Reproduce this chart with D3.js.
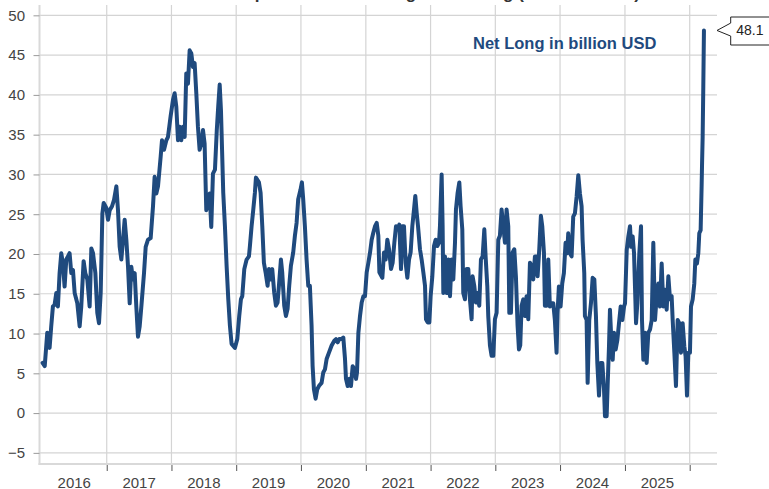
<!DOCTYPE html>
<html>
<head>
<meta charset="utf-8">
<script src="https://cdn.jsdelivr.net/npm/d3@7"></script>
<style>
  html, body { margin: 0; padding: 0; background: #ffffff; }
  svg { display: block; font-family: "Liberation Sans", Arial, sans-serif; }
</style>
</head>
<body>
<svg id="chart" width="769" height="489"></svg>
<script>
// ---- data (decimal year, net long in billion USD) ----
const weekYears = [
2016.012,2016.045,2016.084,2016.120,2016.145,2016.171,2016.197,2016.223,2016.248,2016.274,
2016.300,2016.325,2016.351,2016.377,2016.403,2016.428,2016.454,2016.480,2016.506,2016.547,
2016.583,2016.608,2016.644,2016.670,2016.701,2016.737,2016.763,2016.789,2016.825,2016.855,
2016.881,2016.907,2016.933,2016.953,2016.994,2017.020,2017.046,2017.082,2017.113,2017.149,
2017.174,2017.200,2017.226,2017.252,2017.277,2017.303,2017.329,2017.355,2017.380,2017.406,
2017.432,2017.457,2017.483,2017.509,2017.535,2017.576,2017.602,2017.638,2017.679,2017.715,
2017.740,2017.766,2017.792,2017.833,2017.854,2017.885,2017.921,2017.946,2017.987,2018.024,
2018.049,2018.075,2018.101,2018.126,2018.152,2018.178,2018.204,2018.229,2018.255,2018.281,
2018.307,2018.332,2018.358,2018.384,2018.409,2018.435,2018.461,2018.487,2018.512,2018.538,
2018.564,2018.590,2018.615,2018.641,2018.672,2018.700,2018.722,2018.745,2018.765,2018.782,
2018.800,2018.826,2018.852,2018.878,2018.903,2018.929,2018.981,2019.017,2019.047,2019.073,
2019.094,2019.125,2019.161,2019.197,2019.212,2019.238,2019.264,2019.289,2019.305,2019.351,
2019.377,2019.403,2019.428,2019.454,2019.485,2019.506,2019.531,2019.557,2019.588,2019.614,
2019.639,2019.660,2019.691,2019.711,2019.742,2019.768,2019.794,2019.819,2019.845,2019.881,
2019.907,2019.933,2019.958,2019.994,2020.015,2020.035,2020.061,2020.087,2020.113,2020.138,
2020.164,2020.180,2020.200,2020.226,2020.252,2020.277,2020.318,2020.344,2020.370,2020.396,
2020.432,2020.473,2020.514,2020.540,2020.566,2020.591,2020.627,2020.653,2020.679,2020.694,
2020.720,2020.746,2020.771,2020.797,2020.823,2020.849,2020.864,2020.885,2020.910,2020.936,
2020.962,2020.987,2021.013,2021.039,2021.065,2021.090,2021.116,2021.142,2021.168,2021.193,
2021.209,2021.255,2021.281,2021.306,2021.332,2021.358,2021.389,2021.414,2021.440,2021.466,
2021.492,2021.517,2021.543,2021.564,2021.589,2021.615,2021.641,2021.667,2021.692,2021.718,
2021.744,2021.764,2021.785,2021.806,2021.836,2021.862,2021.888,2021.914,2021.929,2021.955,
2021.981,2022.001,2022.027,2022.053,2022.078,2022.104,2022.130,2022.145,2022.171,2022.186,
2022.197,2022.222,2022.248,2022.274,2022.300,2022.325,2022.351,2022.377,2022.392,2022.418,
2022.444,2022.464,2022.490,2022.505,2022.531,2022.557,2022.583,2022.608,2022.634,2022.649,
2022.675,2022.701,2022.727,2022.752,2022.778,2022.804,2022.830,2022.850,2022.876,2022.891,
2022.917,2022.943,2022.969,2022.994,2023.020,2023.046,2023.071,2023.097,2023.123,2023.149,
2023.174,2023.200,2023.216,2023.241,2023.267,2023.293,2023.318,2023.344,2023.365,2023.385,
2023.406,2023.432,2023.457,2023.483,2023.509,2023.535,2023.560,2023.586,2023.612,2023.637,
2023.653,2023.679,2023.704,2023.725,2023.751,2023.766,2023.792,2023.818,2023.843,2023.869,
2023.895,2023.920,2023.946,2023.961,2023.982,2024.008,2024.034,2024.059,2024.085,2024.111,
2024.126,2024.152,2024.178,2024.203,2024.229,2024.255,2024.281,2024.306,2024.332,2024.347,
2024.373,2024.383,2024.409,2024.425,2024.450,2024.476,2024.502,2024.528,2024.553,2024.574,
2024.600,2024.625,2024.651,2024.677,2024.692,2024.718,2024.733,2024.754,2024.769,2024.785,
2024.811,2024.831,2024.857,2024.883,2024.908,2024.934,2024.960,2024.986,2025.001,2025.027,
2025.052,2025.078,2025.094,2025.119,2025.140,2025.155,2025.171,2025.191,2025.222,2025.248,
2025.263,2025.284,2025.310,2025.335,2025.361,2025.387,2025.413,2025.438,2025.464,2025.490,
2025.516,2025.541,2025.567,2025.593,2025.618,2025.644,2025.670,2025.696,2025.721,2025.737,
2025.763,2025.788,2025.814,2025.840,2025.865,2025.891,2025.917,2025.937,2025.958,2025.979,
2026.004,2026.020,2026.046,2026.071,2026.087,2026.112,2026.133,2026.148,2026.169,2026.184,
2026.190,2026.200,2026.210,2026.220
];
const netLong = [
6.3,5.9,10.1,8.2,10.9,13.4,13.6,15.1,13.4,17.6,
20.1,18.8,15.9,19.3,19.7,20.1,17.6,18.0,15.1,13.8,
10.9,13.4,19.1,17.6,16.8,13.4,20.7,20.1,17.6,12.6,
11.3,15.1,25.1,26.4,25.8,24.3,25.5,26.0,26.8,28.5,
25.5,20.9,19.3,21.8,24.3,21.8,18.4,13.8,18.4,16.8,
17.6,13.4,9.6,10.9,13.4,17.6,20.9,21.8,22.0,26.0,
29.7,27.6,28.5,32.2,34.3,33.1,34.3,34.7,37.3,39.4,
40.2,38.5,34.3,36.0,34.3,36.0,34.7,42.7,41.4,45.6,
45.2,43.5,44.0,40.2,36.0,33.1,33.9,35.6,33.9,25.5,
26.8,27.6,23.4,30.1,30.6,35.5,38.5,41.3,38.0,33.0,
27.7,23.5,18.5,14.3,11.0,8.7,8.2,9.3,12.2,14.3,
14.7,18.1,19.3,19.7,21.0,23.5,25.6,27.7,29.6,29.0,
27.7,23.5,18.9,17.7,16.0,18.1,16.8,18.1,15.1,13.5,
13.9,16.0,19.3,17.7,13.5,12.2,13.1,16.0,18.5,20.2,
22.3,23.9,26.9,28.1,29.0,26.9,23.5,19.3,16.0,16.0,
11.0,5.9,3.0,1.8,3.0,3.4,3.8,5.1,5.5,6.8,
7.6,8.5,9.1,9.3,8.9,9.3,9.3,9.5,6.8,4.3,
3.4,4.3,3.4,5.9,5.5,4.3,5.1,10.1,12.2,13.9,
14.7,14.7,17.7,18.9,20.2,21.8,22.7,23.5,23.9,22.3,
17.7,17.0,20.2,19.3,21.8,20.6,18.1,18.9,21.4,23.5,
23.1,23.7,18.1,23.5,23.5,18.9,17.0,19.3,20.2,23.5,
25.6,27.3,25.2,23.5,20.6,19.3,17.7,16.0,11.8,11.4,
11.4,14.7,17.2,21.0,21.8,21.0,21.4,23.5,30.0,23.5,
15.1,19.7,15.1,19.3,14.7,19.3,16.8,21.4,25.6,27.7,
29.0,26.0,23.1,15.1,14.3,18.1,18.1,14.3,11.8,17.2,
16.0,13.9,15.1,13.5,19.3,19.7,23.1,19.7,16.0,12.2,
8.5,7.2,7.2,11.8,12.6,21.8,22.3,25.6,23.5,21.4,
25.6,23.5,12.6,12.6,20.2,20.6,17.2,11.0,8.0,8.5,
13.5,14.3,12.2,14.7,11.8,18.9,18.5,16.8,19.7,19.7,
17.2,20.6,24.8,23.5,20.2,13.5,13.5,19.3,13.4,13.8,
13.8,11.7,7.6,12.6,15.9,13.4,16.3,17.6,21.4,20.1,
22.6,20.1,19.7,24.7,25.1,27.2,29.9,27.6,26.0,21.8,
17.6,12.2,11.7,3.8,11.7,13.8,17.0,16.8,12.2,6.3,
2.2,6.3,6.3,3.0,-0.4,-0.4,3.4,8.4,13.0,10.1,
6.7,10.1,8.0,9.2,11.3,13.4,11.7,13.4,13.8,20.5,
22.2,23.5,20.9,22.2,20.1,15.9,11.3,13.8,20.1,23.5,
11.7,6.7,10.1,6.3,10.1,10.5,11.7,21.4,11.7,14.7,
16.3,13.4,18.8,13.4,15.5,13.0,17.2,14.3,14.7,11.7,
7.6,3.4,11.7,11.3,7.6,11.3,8.4,7.1,2.2,7.6,
7.6,13.4,14.3,16.3,19.3,18.8,20.1,22.6,23.0,28.5,
31.0,34.7,41.0,48.1
];
const yTickValues = [-5, 0, 5, 10, 15, 20, 25, 30, 35, 40, 45, 50];
const yearLabels = ["2016","2017","2018","2019","2020","2021","2022","2023","2024","2025"];
const yearBoundaries = [2017, 2018, 2019, 2020, 2021, 2022, 2023, 2024, 2025, 2026];
const seriesName = "Net Long in billion USD";
const chartTitle = "Gold: Speculative Net Long Positioning (in billion USD)";

// ---- helpers ----
function toDate(t) {
  const y = Math.floor(t);
  const s = Date.UTC(y, 0, 1), e = Date.UTC(y + 1, 0, 1);
  return new Date(s + (t - y) * (e - s));
}
const data = weekYears.map((t, i) => ({ date: toDate(t), value: netLong[i] }));

const svg = d3.select("#chart");
const W = 769, H = 489;
const plot = { left: 39.5, right: 717, top: 5, bottom: 464 };
const lineColor = "#1f4a7e";
const gridColor = "#d4d4d4";

const x = d3.scaleUtc()
  .domain([new Date(Date.UTC(2015, 11, 19)), new Date(Date.UTC(2026, 5, 3, 22))])
  .range([plot.left, plot.right]);
const y = d3.scaleLinear()
  .domain([-6.4, 51.3])
  .range([plot.bottom, plot.top]);

// title (mostly outside the visible area, as in the reference)
svg.append("text")
  .attr("x", 640).attr("y", -1)
  .attr("text-anchor", "end")
  .attr("font-size", 17).attr("font-weight", "bold")
  .attr("fill", "#333")
  .text(chartTitle);

// horizontal grid
svg.append("g").selectAll("line").data(yTickValues).join("line")
  .attr("x1", plot.left).attr("x2", plot.right)
  .attr("y1", d => y(d)).attr("y2", d => y(d))
  .attr("stroke", gridColor).attr("stroke-width", 1.2);

// vertical grid at year boundaries
svg.append("g").selectAll("line").data(yearBoundaries).join("line")
  .attr("x1", d => x(toDate(d))).attr("x2", d => x(toDate(d)))
  .attr("y1", plot.top).attr("y2", plot.bottom)
  .attr("stroke", gridColor).attr("stroke-width", 1.2);

// plot borders (left and bottom)
svg.append("line")
  .attr("x1", plot.left).attr("x2", plot.left)
  .attr("y1", plot.top).attr("y2", plot.bottom + 1)
  .attr("stroke", "#d9d9d9").attr("stroke-width", 2);
svg.append("line")
  .attr("x1", plot.left - 1).attr("x2", plot.right)
  .attr("y1", plot.bottom).attr("y2", plot.bottom)
  .attr("stroke", "#d9d9d9").attr("stroke-width", 2);

// y axis
const yAxis = d3.axisLeft(y).tickValues(yTickValues).tickSize(6).tickPadding(8.5)
  .tickFormat(d3.format("d"));
const yg = svg.append("g").attr("transform", `translate(${plot.left},0)`).call(yAxis);
yg.select(".domain").remove();
yg.selectAll(".tick line").attr("stroke", "#9a9a9a");
yg.selectAll(".tick text")
  .attr("font-size", 15).attr("fill", "#444")
  .attr("font-family", "'Liberation Sans', Arial, sans-serif");

// x axis: tick marks at year boundaries
const xAxis = d3.axisBottom(x)
  .tickValues(yearBoundaries.map(toDate))
  .tickSize(6).tickFormat("");
const xg = svg.append("g").attr("transform", `translate(0,${plot.bottom + 1})`).call(xAxis);
xg.select(".domain").remove();
xg.selectAll(".tick line").attr("stroke", "#555");

// x labels centred in each year
svg.append("g").selectAll("text").data(yearLabels).join("text")
  .attr("x", d => x(toDate(+d + 0.5)))
  .attr("y", 487.5)
  .attr("text-anchor", "middle")
  .attr("font-size", 15).attr("fill", "#444")
  .text(d => d);

// line
const line = d3.line()
  .x(d => x(d.date))
  .y(d => y(d.value))
  .curve(d3.curveLinear);
svg.append("path")
  .datum(data)
  .attr("d", line)
  .attr("fill", "none")
  .attr("stroke", lineColor)
  .attr("stroke-width", 4)
  .attr("stroke-linejoin", "round")
  .attr("stroke-linecap", "round");

// series label
svg.append("text")
  .attr("x", 473).attr("y", 49)
  .attr("font-size", 16.5).attr("font-weight", "bold")
  .attr("fill", lineColor)
  .text(seriesName);

// last value callout
const last = data[data.length - 1];
const ly = y(last.value);
const bx = plot.right + 13.7;
const callout = d3.path();
callout.moveTo(plot.right, ly);
callout.lineTo(bx, ly - 7.4);
callout.lineTo(bx, 17);
callout.lineTo(W + 5, 17);
callout.lineTo(W + 5, 45);
callout.lineTo(bx, 45);
callout.lineTo(bx, ly + 5.6);
callout.closePath();
svg.append("path")
  .attr("d", callout.toString())
  .attr("fill", "#fff")
  .attr("stroke", "#222")
  .attr("stroke-width", 1);
svg.append("text")
  .attr("x", bx + 5.5).attr("y", ly + 5)
  .attr("font-size", 14).attr("fill", "#222")
  .text(d3.format(".1f")(last.value));
</script>
</body>
</html>
